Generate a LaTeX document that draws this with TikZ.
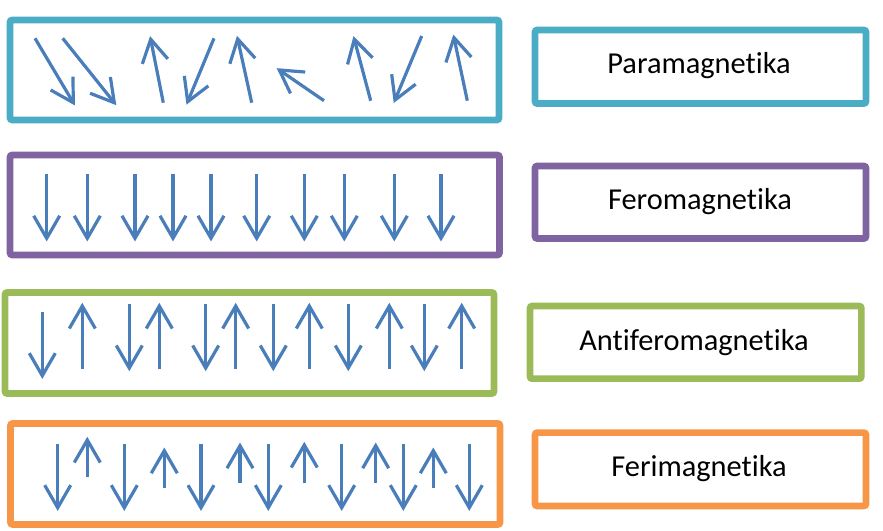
\documentclass[tikz,border=0pt]{standalone}
\usepackage{fontspec}
\setmainfont{Carlito}[Ligatures=NoCommon]
\usetikzlibrary{calc}
\definecolor{arrowblue}{HTML}{4A7EBB}
\definecolor{cteal}{HTML}{4BACC6}
\definecolor{cpurple}{HTML}{8064A2}
\definecolor{cgreen}{HTML}{9BBB59}
\definecolor{corange}{HTML}{F79646}
\newcommand\spinar[4]{%
  \draw[spin] (#1,#2) coordinate (s) -- (#3,#4) coordinate (t);
  \draw[spin] ($(t)!19.5pt!30:(s)$) -- (t) -- ($(t)!19.5pt!-30:(s)$);}
\begin{document}
\begin{tikzpicture}[x=0.75pt,y=-0.75pt,
  spin/.style={draw=arrowblue, line width=2.4pt, miter limit=4},
  frame/.style={line width=4.9pt, rounded corners=1.5pt},
  lbl/.style={anchor=base, font=\fontsize{22.8}{27}\selectfont, inner sep=0pt}]
\useasboundingbox (0,0) rectangle (883,531);
% left frames
\draw[frame, draw=cteal]   (10,20) rectangle (499,120);
\draw[frame, draw=cpurple] (10,155) rectangle (499.5,255);
\draw[frame, draw=cgreen]  (5,292.5) rectangle (494,393.5);
\draw[frame, draw=corange] (10.5,423.5) rectangle (500,524.5);
% right frames
\draw[frame, draw=cteal]   (535,30) rectangle (866,103.5);
\draw[frame, draw=cpurple] (535,166) rectangle (866,238.5);
\draw[frame, draw=cgreen]  (530,306) rectangle (861.3,378.7);
\draw[frame, draw=corange] (535,432.7) rectangle (866,506);
% labels
\node[lbl] (para) at (699,73.3) {Paramagnetika};
\node[lbl] (fero) at (700,210) {Feromagnetika};
\node[lbl] (anti) at (694,350) {Antiferomagnetika};
\node[lbl] (feri) at (699,476.7) {Ferimagnetika};
% paramagnetic
\foreach \a/\b/\c/\d in {35/38.3/73.3/102.7, 62.7/38.3/114.3/102.7, 163.3/102.7/150.7/39.3,
  214/38.3/187.7/101.7, 251.7/102.7/237.7/39, 324/100.7/279.3/70, 370.7/100.7/354.3/39.3,
  421.7/36/395/100, 467.3/100.7/454/37.7}
  {\spinar{\a}{\b}{\c}{\d}}
% ferromagnetic
\foreach \x in {46.7, 87.3, 135, 173, 211, 256.7, 304.3, 344.3, 394.3, 441}
  {\spinar{\x}{174.3}{\x}{238.3}}
% antiferromagnetic
\spinar{42.3}{312.3}{42.3}{375.7}
\foreach \x in {129.3, 205.7, 273.3, 348.3, 424.3}
  {\spinar{\x}{304.3}{\x}{368}}
\foreach \x in {82.3, 159.3, 235.7, 309.3, 389.3, 461.7}
  {\spinar{\x}{369.5}{\x}{306}}
% ferrimagnetic
\foreach \x in {57.7, 124.3, 201, 268.3, 341.7, 403.3, 469.3}
  {\spinar{\x}{444.3}{\x}{507.7}}
\foreach \x/\b/\t in {87.3/477.3/440, 164.3/488.3/450.7, 240/483.3/445.7, 304.3/483.3/445,
  375.7/483.3/445.7, 433.3/487.7/450.7}
  {\spinar{\x}{\b}{\x}{\t}}
\end{tikzpicture}
\end{document}
